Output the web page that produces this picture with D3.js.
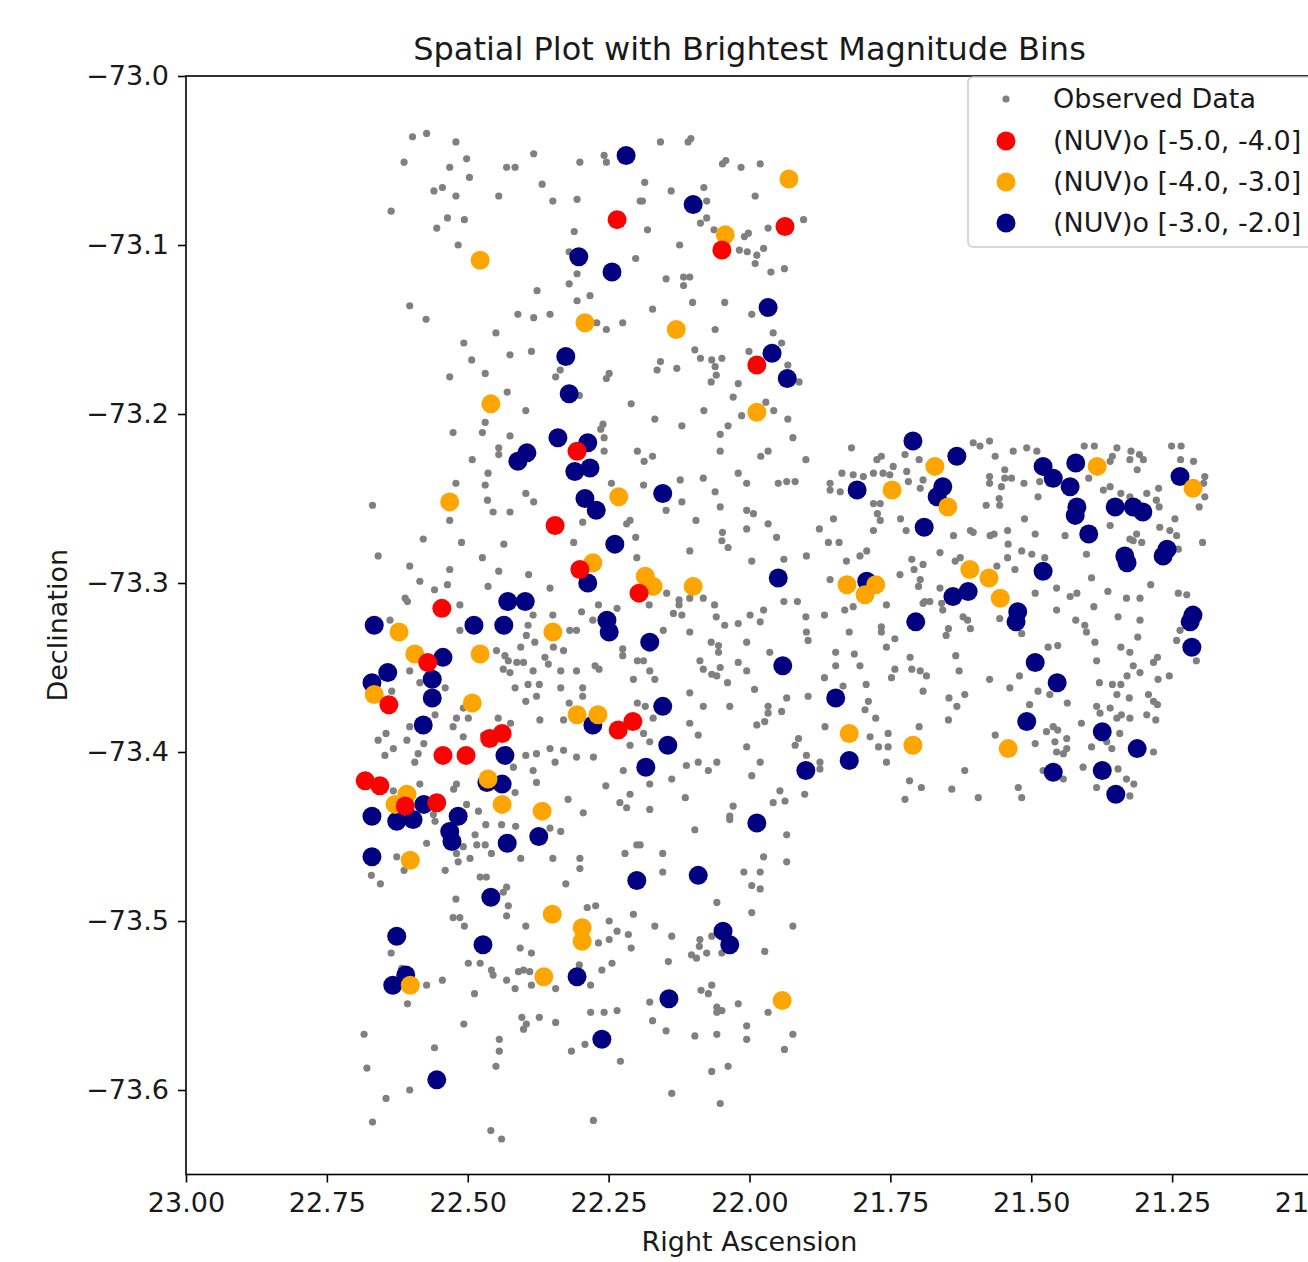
<!DOCTYPE html>
<html>
<head>
<meta charset="utf-8">
<script src="https://cdn.jsdelivr.net/npm/d3@7"></script>
<style>
  body { margin: 0; background: #fff; }
  svg { display: block; font-family: 'DejaVu Sans', sans-serif; }
</style>
</head>
<body>
<div id="chart"></div>
<script>
// [RA, Dec]
const observedData = [
  [22.598,-73.036],[22.573,-73.034],[22.521,-73.039],[22.613,-73.051],[22.532,-73.054],[22.502,-73.049],[22.431,-73.054],[22.416,-73.054],[22.383,-73.046],[22.301,-73.051],[22.258,-73.047],[22.254,-73.051],[22.497,-73.060],[22.560,-73.068],[22.545,-73.066],[22.521,-73.071],[22.445,-73.071],[22.368,-73.064],[22.349,-73.074],[22.306,-73.073],[22.636,-73.080],[22.536,-73.084],[22.506,-73.085],[22.555,-73.090],[22.311,-73.092],[22.517,-73.100],[22.320,-73.104],[22.202,-73.108],[22.306,-73.117],[22.320,-73.123],[22.377,-73.127],[22.306,-73.133],[22.283,-73.130],[22.603,-73.136],[22.574,-73.144],[22.411,-73.141],[22.383,-73.143],[22.354,-73.141],[22.271,-73.146],[22.254,-73.150],[22.225,-73.146],[22.450,-73.152],[22.507,-73.158],[22.425,-73.165],[22.387,-73.163],[22.493,-73.168],[22.469,-73.176],[22.532,-73.178],[22.344,-73.178],[22.336,-73.174],[22.254,-73.179],[22.249,-73.176],[22.430,-73.187],[22.302,-73.189],[22.210,-73.194],[22.397,-73.198],[22.469,-73.205],[22.526,-73.211],[22.474,-73.211],[22.425,-73.213],[22.260,-73.206],[22.264,-73.209],[22.258,-73.214],[22.258,-73.222],[22.199,-73.222],[22.445,-73.220],[22.445,-73.224],[22.492,-73.227],[22.194,-73.074],
  [22.158,-73.039],[22.109,-73.039],[22.104,-73.037],[22.048,-73.052],[22.042,-73.050],[22.015,-73.054],[21.981,-73.052],[22.186,-73.063],[22.139,-73.068],[22.081,-73.066],[21.990,-73.071],[22.190,-73.074],[22.076,-73.074],[22.087,-73.087],[22.076,-73.084],[22.063,-73.091],[22.181,-73.091],[22.124,-73.100],[22.009,-73.095],[22.002,-73.093],[21.967,-73.090],[21.904,-73.085],[22.018,-73.103],[22.004,-73.104],[21.975,-73.102],[21.987,-73.106],[21.990,-73.111],[21.962,-73.116],[21.938,-73.114],[22.148,-73.120],[22.117,-73.119],[22.106,-73.119],[22.117,-73.124],[22.172,-73.138],[22.101,-73.134],[22.044,-73.134],[21.996,-73.141],[21.958,-73.152],[21.943,-73.158],[22.061,-73.150],[22.097,-73.162],[22.087,-73.167],[22.067,-73.168],[22.049,-73.167],[22.061,-73.172],[22.059,-73.177],[22.068,-73.181],[22.158,-73.169],[22.164,-73.174],[22.129,-73.173],[22.001,-73.163],[22.020,-73.182],[22.029,-73.190],[21.932,-73.171],[21.912,-73.181],[21.971,-73.193],[21.957,-73.198],[21.932,-73.203],[21.923,-73.214],[22.081,-73.198],[22.014,-73.201],[22.168,-73.203],[22.120,-73.207],[22.052,-73.212],[22.038,-73.207],[22.052,-73.222],[21.980,-73.225],[21.967,-73.222],[21.900,-73.227],[22.172,-73.225],[22.187,-73.228],[21.819,-73.220],[21.774,-73.227],[21.766,-73.225],[21.745,-73.231],[21.724,-73.224],[21.699,-73.227],
  [21.603,-73.217],[21.591,-73.219],[21.574,-73.216],[21.564,-73.225],[21.532,-73.222],[21.508,-73.220],[21.490,-73.222],[21.406,-73.219],[21.388,-73.219],[21.348,-73.220],[21.323,-73.222],[21.308,-73.224],[21.301,-73.227],[21.325,-73.227],[21.312,-73.233],[21.356,-73.225],[21.360,-73.228],[21.251,-73.219],[21.234,-73.219],[21.235,-73.227],[21.212,-73.228],[21.192,-73.237],[21.194,-73.241],[21.192,-73.249],[21.202,-73.255],[21.574,-73.237],[21.574,-73.241],[21.547,-73.233],[21.547,-73.238],[21.535,-73.238],[21.553,-73.243],[21.513,-73.241],[21.488,-73.249],[21.468,-73.241],[21.485,-73.240],[21.580,-73.254],[21.557,-73.250],[21.556,-73.254],[21.398,-73.238],[21.372,-73.245],[21.360,-73.243],[21.341,-73.247],[21.325,-73.249],[21.295,-73.247],[21.278,-73.251],[21.273,-73.255],[21.274,-73.244],[21.245,-73.262],[21.512,-73.262],[21.493,-73.271],[21.440,-73.272],[21.360,-73.266],[21.325,-73.274],[21.313,-73.271],[21.304,-73.276],[21.319,-73.275],[21.272,-73.267],[21.254,-73.269],[21.242,-73.272],[21.239,-73.280],[21.196,-73.276],[21.638,-73.272],[21.608,-73.269],[21.603,-73.270],[21.573,-73.272],[21.566,-73.271],[21.542,-73.269],[21.541,-73.277],[21.517,-73.281],[21.499,-73.283],[21.476,-73.285],[21.542,-73.285],[21.561,-73.290],[21.529,-73.292],[21.402,-73.283],[21.393,-73.297],[21.662,-73.282],[21.635,-73.287],[21.626,-73.285],[21.455,-73.303],[21.431,-73.308],[21.419,-73.306],[21.364,-73.305],[21.331,-73.309],[21.307,-73.309],[21.288,-73.301],[21.239,-73.306],[21.224,-73.307],[21.493,-73.306],[21.662,-73.303],[21.680,-73.311],[21.659,-73.312],[21.657,-73.316],[21.621,-73.320],[21.613,-73.322],[21.608,-73.327],[21.647,-73.327],[21.651,-73.331],[21.556,-73.321],[21.517,-73.330],[21.455,-73.316],[21.421,-73.322],[21.405,-73.325],[21.402,-73.329],[21.389,-73.314],[21.387,-73.335],[21.346,-73.320],[21.307,-73.322],[21.311,-73.332],[21.236,-73.328],[21.242,-73.334],[21.207,-73.346],[21.470,-73.338],[21.453,-73.337],[21.341,-73.338],[21.325,-73.341],[21.384,-73.346],[21.330,-73.355],[21.319,-73.349],[21.307,-73.353],[21.276,-73.344],[21.283,-73.347],[21.255,-73.355],[21.275,-73.357],[21.634,-73.343],[21.628,-73.352],[21.574,-73.357],[21.521,-73.355],[21.538,-73.362],[21.488,-73.364],[21.467,-73.366],[21.436,-73.371],[21.379,-73.359],[21.356,-73.360],[21.348,-73.366],[21.341,-73.360],[21.326,-73.368],[21.360,-73.374],[21.292,-73.366],[21.283,-73.370],[21.276,-73.372],[21.646,-73.368],[21.632,-73.373],[21.618,-73.366],[21.503,-73.372],[21.647,-73.381],[21.384,-73.373],[21.378,-73.377],[21.348,-73.380],[21.340,-73.378],[21.325,-73.380],[21.295,-73.378],[21.279,-73.381],[21.411,-73.383],[21.461,-73.385],[21.453,-73.387],[21.473,-73.388],[21.437,-73.392],[21.493,-73.395],[21.458,-73.394],[21.455,-73.400],[21.443,-73.401],[21.393,-73.397],[21.366,-73.394],[21.357,-73.398],[21.343,-73.389],[21.283,-73.400],[21.564,-73.390],[21.618,-73.411],[21.479,-73.411],[21.408,-73.409],[21.346,-73.410],[21.331,-73.416],[21.318,-73.419],[21.384,-73.421],[21.325,-73.426],[21.641,-73.422],[21.594,-73.427],[21.523,-73.421],[21.517,-73.427],[21.443,-73.416],[21.437,-73.398],
  [22.464,-73.235],[22.521,-73.241],[22.469,-73.242],[22.465,-73.251],[22.455,-73.258],[22.425,-73.258],[22.532,-73.263],[22.397,-73.247],[22.383,-73.252],[22.669,-73.254],[22.245,-73.241],[22.212,-73.263],[22.218,-73.265],[22.296,-73.264],[22.312,-73.276],[22.202,-73.273],[22.200,-73.285],[22.579,-73.274],[22.511,-73.276],[22.436,-73.277],[22.659,-73.284],[22.603,-73.290],[22.532,-73.292],[22.474,-73.285],[22.445,-73.293],[22.392,-73.295],[22.354,-73.303],[22.585,-73.299],[22.559,-73.304],[22.536,-73.301],[22.464,-73.302],[22.611,-73.309],[22.607,-73.311],[22.514,-73.313],[22.268,-73.313],[22.298,-73.317],[22.235,-73.315],[22.384,-73.319],[22.349,-73.319],[22.278,-73.322],[22.514,-73.328],[22.638,-73.322],[22.393,-73.325],[22.396,-73.331],[22.381,-73.335],[22.406,-73.338],[22.319,-73.328],[22.307,-73.328],[22.449,-73.340],[22.434,-73.343],[22.428,-73.346],[22.348,-73.338],[22.330,-73.340],[22.363,-73.344],[22.357,-73.348],[22.413,-73.347],[22.401,-73.347],[22.437,-73.351],[22.425,-73.353],[22.384,-73.352],[22.335,-73.352],[22.307,-73.352],[22.274,-73.349],[22.267,-73.351],[22.225,-73.339],[22.225,-73.343],[22.199,-73.346],[22.206,-73.357],[22.393,-73.360],[22.373,-73.360],[22.416,-73.362],[22.335,-73.362],[22.296,-73.362],[22.296,-73.367],[22.378,-73.367],[22.397,-73.370],[22.603,-73.352],[22.585,-73.359],[22.540,-73.362],[22.635,-73.364],[22.372,-73.381],[22.330,-73.381],[22.320,-73.371],[22.199,-73.371],[22.508,-73.374],[22.499,-73.380],[22.558,-73.378],[22.603,-73.385],[22.645,-73.389],[22.659,-73.393],[22.608,-73.393],[22.520,-73.380],[22.526,-73.385],[22.508,-73.391],[22.446,-73.380],[22.424,-73.383],[22.472,-73.390],[22.578,-73.395],[22.588,-73.401],[22.647,-73.402],[22.632,-73.398],[22.594,-73.406],[22.354,-73.398],[22.330,-73.399],[22.397,-73.402],[22.378,-73.401],[22.345,-73.406],[22.307,-73.403],[22.277,-73.403],[22.419,-73.409],[22.384,-73.411],[22.378,-73.418],[22.224,-73.411],[22.212,-73.396],[22.255,-73.420],[22.322,-73.428],[22.295,-73.436],[22.212,-73.425],[22.230,-73.430],[22.218,-73.433],[22.525,-73.422],[22.520,-73.419],[22.585,-73.419],[22.632,-73.423],[22.502,-73.431],[22.481,-73.435],[22.416,-73.424],[22.561,-73.437],
  [22.188,-73.242],[22.123,-73.239],[22.082,-73.238],[22.020,-73.235],[22.005,-73.241],[21.949,-73.241],[21.934,-73.240],[21.919,-73.240],[21.857,-73.241],[21.857,-73.245],[21.839,-73.246],[21.836,-73.235],[21.816,-73.236],[21.798,-73.237],[21.780,-73.235],[21.763,-73.235],[21.751,-73.236],[21.721,-73.234],[21.718,-73.240],[21.697,-73.244],[21.692,-73.239],[22.120,-73.252],[22.148,-73.257],[22.052,-73.255],[22.061,-73.246],[22.005,-73.257],[21.993,-73.259],[21.967,-73.265],[22.005,-73.268],[21.952,-73.273],[22.095,-73.263],[22.048,-73.270],[22.049,-73.275],[22.038,-73.279],[22.106,-73.281],[21.876,-73.268],[21.851,-73.262],[21.860,-73.276],[21.841,-73.276],[21.899,-73.284],[21.939,-73.286],[21.996,-73.287],[21.828,-73.287],[21.804,-73.284],[21.792,-73.281],[21.780,-73.253],[21.768,-73.253],[21.773,-73.259],[21.732,-73.262],[21.722,-73.269],[21.780,-73.269],[21.708,-73.292],[21.712,-73.286],[21.692,-73.289],[21.733,-73.295],[21.697,-73.298],[21.700,-73.302],[21.689,-73.311],[21.857,-73.298],[21.757,-73.313],[21.816,-73.314],[21.831,-73.316],[21.867,-73.319],[21.900,-73.320],[21.915,-73.311],[21.939,-73.311],[21.975,-73.316],[21.999,-73.319],[21.981,-73.323],[22.020,-73.324],[22.044,-73.325],[22.059,-73.320],[22.062,-73.313],[22.082,-73.309],[22.106,-73.309],[22.125,-73.310],[22.125,-73.313],[22.147,-73.306],[22.135,-73.318],[22.120,-73.319],[22.153,-73.328],[22.106,-73.329],[22.178,-73.313],[21.899,-73.329],[21.896,-73.334],[21.823,-73.329],[21.766,-73.326],[21.766,-73.329],[21.742,-73.333],[21.757,-73.338],[21.715,-73.344],[21.712,-73.351],[21.697,-73.352],[21.686,-73.355],[21.748,-73.356],[21.742,-73.351],[21.847,-73.341],[21.814,-73.342],[21.847,-73.349],[21.804,-73.349],[21.867,-73.356],[21.834,-73.361],[21.793,-73.360],[21.789,-73.370],[21.795,-73.375],[21.776,-73.380],[21.754,-73.389],[21.754,-73.397],[21.771,-73.397],[21.786,-73.391],[21.866,-73.385],[21.896,-73.367],[21.934,-73.368],[21.943,-73.376],[21.967,-73.373],[21.967,-73.377],[21.987,-73.384],[21.973,-73.382],[21.991,-73.363],[22.005,-73.352],[22.020,-73.347],[22.052,-73.350],[22.058,-73.355],[22.067,-73.354],[22.039,-73.359],[22.088,-73.346],[22.082,-73.351],[22.005,-73.335],[22.055,-73.337],[22.055,-73.341],[22.068,-73.335],[21.964,-73.341],[22.106,-73.365],[22.082,-73.373],[22.035,-73.373],[22.106,-73.383],[22.091,-73.390],[22.005,-73.397],[21.981,-73.406],[21.913,-73.392],[21.919,-73.396],[21.899,-73.402],[21.875,-73.406],[21.875,-73.410],[21.946,-73.423],[21.937,-73.429],[21.958,-73.430],[21.902,-73.425],[22.029,-73.432],[22.035,-73.438],[22.073,-73.411],[22.058,-73.406],[22.091,-73.406],[22.112,-73.408],[22.138,-73.416],[22.114,-73.427],[22.177,-73.434],[22.177,-73.419],[22.177,-73.352],[22.168,-73.357],[22.188,-73.346],[22.185,-73.373],[22.171,-73.380],[22.188,-73.389],[22.177,-73.394],[21.692,-73.364],[21.699,-73.385],[21.716,-73.417],[21.695,-73.421],[21.724,-73.428],[21.757,-73.406],[21.996,-73.414],[21.692,-73.312],[21.768,-73.263],
  [22.558,-73.441],[22.468,-73.443],[22.440,-73.443],[22.415,-73.444],[22.487,-73.449],[22.484,-73.455],[22.469,-73.455],[22.458,-73.460],[22.573,-73.454],[22.508,-73.456],[22.520,-73.460],[22.517,-73.465],[22.496,-73.463],[22.540,-73.470],[22.626,-73.462],[22.613,-73.470],[22.671,-73.473],[22.655,-73.478],[22.406,-73.463],[22.349,-73.463],[22.335,-73.447],[22.354,-73.445],[22.301,-73.463],[22.301,-73.469],[22.326,-73.478],[22.221,-73.460],[22.200,-73.455],[22.478,-73.474],[22.467,-73.474],[22.431,-73.480],[22.437,-73.483],[22.428,-73.491],[22.431,-73.497],[22.521,-73.487],[22.526,-73.498],[22.514,-73.498],[22.506,-73.503],[22.397,-73.503],[22.288,-73.492],[22.273,-73.491],[22.249,-73.500],[22.235,-73.506],[22.215,-73.508],[22.206,-73.496],[22.210,-73.516],[22.268,-73.513],[22.249,-73.511],[22.407,-73.516],[22.387,-73.519],[22.636,-73.519],[22.499,-73.525],[22.478,-73.525],[22.458,-73.529],[22.455,-73.532],[22.431,-73.535],[22.416,-73.540],[22.410,-73.530],[22.401,-73.529],[22.390,-73.530],[22.387,-73.538],[22.344,-73.540],[22.302,-73.526],[22.262,-73.529],[22.244,-73.525],[22.282,-73.538],[22.573,-73.538],[22.545,-73.535],[22.607,-73.549],[22.488,-73.543],[22.507,-73.561],[22.404,-73.557],[22.396,-73.561],[22.401,-73.564],[22.373,-73.557],[22.344,-73.560],[22.282,-73.554],[22.258,-73.554],[22.235,-73.553],[22.684,-73.567],[22.559,-73.575],[22.444,-73.570],[22.444,-73.577],[22.450,-73.586],[22.316,-73.577],[22.292,-73.573],[22.229,-73.583],[22.679,-73.587],[22.645,-73.605],[22.603,-73.600],[22.669,-73.619],[22.459,-73.624],[22.440,-73.629],[22.277,-73.618],[22.617,-73.528],
  [22.035,-73.440],[22.097,-73.446],[21.934,-73.449],[22.194,-73.455],[22.154,-73.460],[22.154,-73.471],[21.975,-73.462],[21.934,-73.465],[22.010,-73.471],[21.981,-73.471],[21.996,-73.479],[21.981,-73.481],[22.058,-73.489],[21.996,-73.495],[22.168,-73.503],[21.923,-73.503],[22.138,-73.509],[22.088,-73.511],[22.089,-73.515],[22.103,-73.520],[22.094,-73.522],[22.076,-73.519],[22.049,-73.519],[22.067,-73.509],[21.973,-73.518],[22.144,-73.524],[22.086,-73.541],[22.067,-73.538],[22.073,-73.543],[22.058,-73.551],[22.049,-73.553],[22.058,-73.554],[22.020,-73.549],[21.967,-73.554],[22.177,-73.548],[22.172,-73.559],[22.148,-73.565],[22.097,-73.568],[22.058,-73.567],[22.005,-73.562],[22.005,-73.570],[21.923,-73.567],[21.938,-73.576],[22.067,-73.589],[22.038,-73.586],[22.138,-73.602],[22.052,-73.608]
];

// (NUV)o [-5.0, -4.0]
const binBright = [
  [22.235,-73.085],[21.937,-73.089],[22.049,-73.103],[21.987,-73.171],[22.306,-73.222],[22.345,-73.266],[22.301,-73.292],[22.196,-73.306],[22.546,-73.315],[22.571,-73.347],[22.640,-73.372],[22.233,-73.387],[22.207,-73.382],[22.461,-73.392],[22.439,-73.389],[22.544,-73.402],[22.503,-73.402],[22.682,-73.417],[22.656,-73.420],[22.611,-73.432],[22.555,-73.430]
];
// (NUV)o [-4.0, -3.0]
const binMid = [
  [21.930,-73.061],[22.478,-73.109],[22.043,-73.094],[22.292,-73.146],[22.130,-73.150],[22.459,-73.194],[21.987,-73.199],[22.532,-73.252],[22.232,-73.249],[22.278,-73.288],[22.185,-73.296],[22.171,-73.302],[22.100,-73.302],[22.349,-73.329],[22.622,-73.329],[22.594,-73.342],[22.478,-73.342],[22.666,-73.366],[22.492,-73.371],[22.306,-73.378],[22.269,-73.378],[22.464,-73.416],[22.608,-73.425],[22.629,-73.431],[22.439,-73.431],[22.368,-73.435],[22.602,-73.464],[22.350,-73.496],[22.297,-73.504],[22.297,-73.512],[22.365,-73.533],[22.602,-73.538],[21.942,-73.547],[21.671,-73.231],[21.648,-73.255],[21.383,-73.231],[21.213,-73.244],[21.609,-73.292],[21.575,-73.297],[21.555,-73.309],[21.541,-73.398],[21.747,-73.245],[21.827,-73.301],[21.795,-73.307],[21.776,-73.301],[21.823,-73.389],[21.710,-73.396]
];
// (NUV)o [-3.0, -2.0]
const binFaint = [
  [22.219,-73.047],[22.100,-73.076],[22.303,-73.107],[22.244,-73.116],[21.967,-73.137],[21.960,-73.164],[21.933,-73.179],[22.326,-73.166],[22.320,-73.188],[22.340,-73.214],[22.287,-73.217],[22.395,-73.223],[22.411,-73.228],[22.310,-73.234],[22.283,-73.232],[22.292,-73.250],[22.272,-73.257],[22.154,-73.247],[22.239,-73.277],[22.287,-73.300],[22.429,-73.311],[22.398,-73.311],[22.666,-73.325],[22.489,-73.325],[22.436,-73.325],[22.253,-73.322],[22.249,-73.329],[22.177,-73.335],[22.544,-73.344],[22.642,-73.353],[22.670,-73.359],[22.563,-73.357],[22.563,-73.368],[21.941,-73.349],[22.154,-73.373],[21.847,-73.368],[22.579,-73.384],[22.278,-73.384],[22.145,-73.396],[22.434,-73.402],[22.184,-73.409],[21.900,-73.411],[21.823,-73.405],[22.466,-73.418],[22.439,-73.419],[22.670,-73.438],[22.626,-73.441],[22.597,-73.440],[22.578,-73.431],[22.532,-73.447],[22.528,-73.453],[22.517,-73.438],[22.430,-73.454],[22.374,-73.450],[22.670,-73.462],[22.200,-73.476],[22.459,-73.486],[22.626,-73.509],[22.473,-73.514],[22.610,-73.532],[22.633,-73.538],[22.306,-73.533],[22.262,-73.570],[22.555,-73.594],[21.987,-73.442],[22.091,-73.473],[22.047,-73.506],[22.035,-73.514],[22.143,-73.546],[21.632,-73.225],[21.710,-73.216],[21.809,-73.245],[21.657,-73.243],[21.667,-73.249],[21.690,-73.267],[21.479,-73.231],[21.461,-73.238],[21.421,-73.229],[21.431,-73.243],[21.419,-73.255],[21.422,-73.260],[21.398,-73.271],[21.351,-73.255],[21.319,-73.255],[21.302,-73.258],[21.236,-73.237],[21.334,-73.284],[21.330,-73.288],[21.259,-73.280],[21.266,-73.284],[21.479,-73.293],[21.639,-73.308],[21.612,-73.305],[21.524,-73.317],[21.527,-73.323],[21.213,-73.319],[21.218,-73.323],[21.215,-73.338],[21.493,-73.347],[21.454,-73.359],[21.508,-73.382],[21.374,-73.388],[21.312,-73.398],[21.461,-73.412],[21.374,-73.411],[21.350,-73.425],[21.949,-73.297],[21.705,-73.323],[21.792,-73.299]
];

const xTicks = [23.0, 22.75, 22.5, 22.25, 22.0, 21.75, 21.5, 21.25, 21.0];
const yTicks = [-73.0, -73.1, -73.2, -73.3, -73.4, -73.5, -73.6];
const legendLabels = ['Observed Data', '(NUV)o [-5.0, -4.0]', '(NUV)o [-4.0, -3.0]', '(NUV)o [-3.0, -2.0]'];
const legendColors = ['#808080', '#ff0000', '#ffa500', '#000080'];

const width = 1308;
const height = 1262;
const plotLeft = 186, plotRight = 1313, plotTop = 76, plotBottom = 1174.5;
const fontSize = 27;

const svg = d3.select('#chart')
  .append('svg')
  .attr('width', width)
  .attr('height', height);

const x = d3.scaleLinear().domain([23, 21]).range([plotLeft, plotRight]);
const y = d3.scaleLinear().domain([-73.0, -73.65]).range([plotTop, plotBottom]);

// points
svg.append('g')
  .selectAll('circle')
  .data(observedData)
  .join('circle')
  .attr('cx', (d) => x(d[0]))
  .attr('cy', (d) => y(d[1]))
  .attr('r', 3.6)
  .attr('fill', legendColors[0]);

// drawn faint -> bright so the red sits on top, like the picture
[[binFaint, legendColors[3]], [binMid, legendColors[2]], [binBright, legendColors[1]]].forEach(([pts, color]) => {
  svg.append('g')
    .selectAll('circle')
    .data(pts)
    .join('circle')
    .attr('cx', (d) => x(d[0]))
    .attr('cy', (d) => y(d[1]))
    .attr('r', 9.5)
    .attr('fill', color);
});

// frame
svg.append('rect')
  .attr('x', plotLeft)
  .attr('y', plotTop)
  .attr('width', plotRight - plotLeft)
  .attr('height', plotBottom - plotTop)
  .attr('fill', 'none')
  .attr('stroke', '#000')
  .attr('stroke-width', 1.6);

const xAxis = svg.append('g')
  .attr('transform', `translate(0,${plotBottom})`)
  .call(d3.axisBottom(x).tickValues(xTicks).tickFormat(d3.format('.2f')).tickSize(8).tickPadding(10).tickSizeOuter(0));
const yAxis = svg.append('g')
  .attr('transform', `translate(${plotLeft},0)`)
  .call(d3.axisLeft(y).tickValues(yTicks).tickFormat(d3.format('.1f')).tickSize(8).tickPadding(9).tickSizeOuter(0));

[xAxis, yAxis].forEach((g) => {
  g.select('.domain').remove();
  g.selectAll('line').attr('stroke', '#000').attr('stroke-width', 1.6);
  g.selectAll('text')
    .attr('fill', '#1a1a1a')
    .style('font-size', `${fontSize}px`)
    .style('font-family', "'DejaVu Sans', sans-serif");
});

// titles
svg.append('text')
  .attr('x', (plotLeft + plotRight) / 2)
  .attr('y', 60)
  .attr('text-anchor', 'middle')
  .attr('fill', '#1a1a1a')
  .style('font-size', '32px')
  .text('Spatial Plot with Brightest Magnitude Bins');

svg.append('text')
  .attr('x', (plotLeft + plotRight) / 2)
  .attr('y', 1251)
  .attr('text-anchor', 'middle')
  .attr('fill', '#1a1a1a')
  .style('font-size', `${fontSize}px`)
  .text('Right Ascension');

svg.append('text')
  .attr('transform', `translate(67,${(plotTop + plotBottom) / 2}) rotate(-90)`)
  .attr('text-anchor', 'middle')
  .attr('fill', '#1a1a1a')
  .style('font-size', `${fontSize}px`)
  .text('Declination');

// legend
const legend = svg.append('g');
legend.append('rect')
  .attr('x', 968)
  .attr('y', 77)
  .attr('width', 370)
  .attr('height', 170)
  .attr('rx', 5)
  .attr('fill', '#fff')
  .attr('fill-opacity', 0.95)
  .attr('stroke', '#cccccc')
  .attr('stroke-width', 1.6);

const rowY = [99, 141, 182, 223];
legendLabels.forEach((label, i) => {
  legend.append('circle')
    .attr('cx', 1006)
    .attr('cy', rowY[i])
    .attr('r', i === 0 ? 3.6 : 9.5)
    .attr('fill', legendColors[i]);
  legend.append('text')
    .attr('x', 1053)
    .attr('y', rowY[i])
    .attr('dy', '0.35em')
    .attr('fill', '#1a1a1a')
    .style('font-size', `${fontSize}px`)
    .text(label);
});
</script>
</body>
</html>
